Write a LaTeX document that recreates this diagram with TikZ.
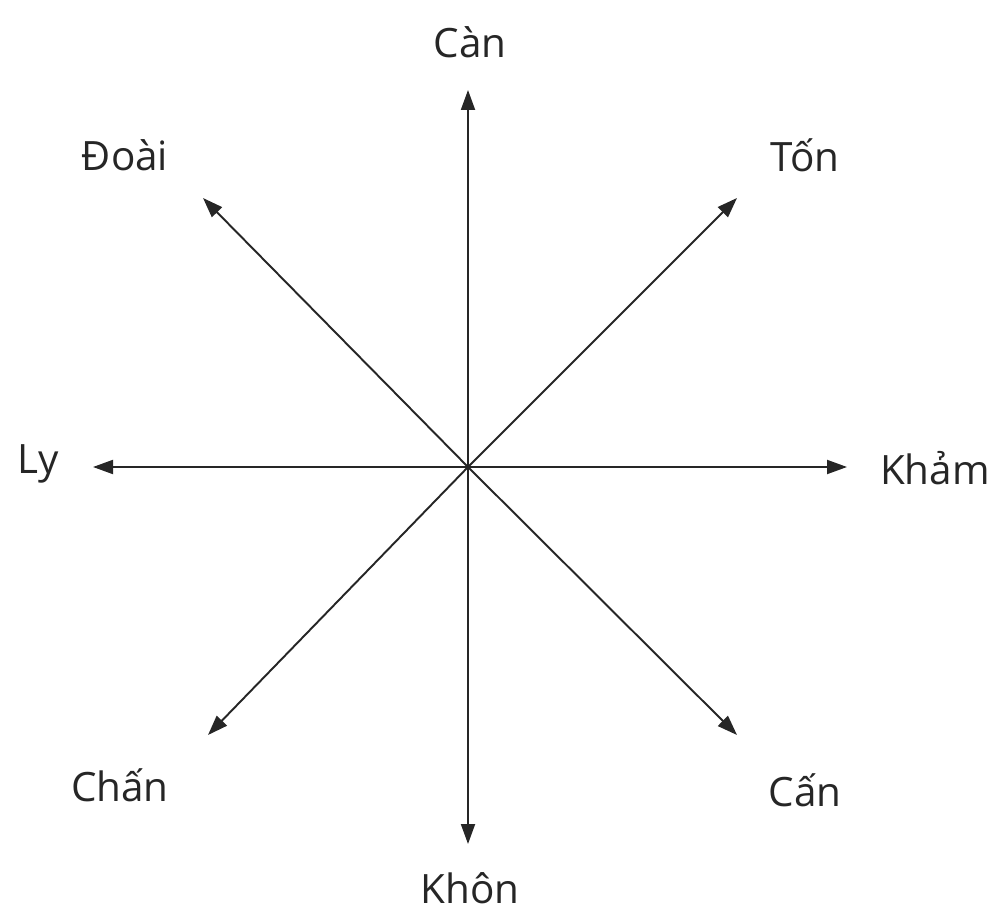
\documentclass[tikz,border=0pt]{standalone}
\usepackage{fontspec}
\setmainfont{Open Sans}
\usetikzlibrary{arrows.meta}

\begin{document}
\begin{tikzpicture}[
  >={Triangle[length=0.4cm,width=0.28cm]},
  dir/.style={->, line width=1.1pt, draw=black!85},
  lbl/.style={font=\fontsize{23}{28}\selectfont, text=black!85, inner sep=0pt}
]
  \useasboundingbox (0,0) rectangle (19.9,18.24);

  % centre and arrow ends
  \coordinate (o) at (9.36,8.9);
  \coordinate (can) at (9.36,16.44);
  \coordinate (khon) at (9.36,1.36);
  \coordinate (ly) at (1.86,8.9);
  \coordinate (kham) at (16.94,8.9);
  \coordinate (doai) at (4.06,14.28);
  \coordinate (ton) at (14.74,14.28);
  \coordinate (chan) at (4.16,3.54);
  \coordinate (canb) at (14.74,3.54);

  % labels
  \node[lbl] (tcan) at (9.4,17.4) {Càn};
  \node[lbl] (tdoai) at (2.5,15.14) {Đoài};
  \node[lbl] (tton) at (16.1,15.14) {Tốn};
  \node[lbl] (tly) at (0.76,8.96) {Ly};
  \node[lbl] (tkham) at (18.7,8.88) {Khảm};
  \node[lbl] (tchan) at (2.4,2.54) {Chấn};
  \node[lbl] (tcanb) at (16.1,2.44) {Cấn};
  \node[lbl] (tkhon) at (9.4,0.48) {Khôn};

  % arrows
  \foreach \e in {can,khon,ly,kham,doai,ton,chan,canb}
    \draw[dir] (o) -- (\e);

\end{tikzpicture}
\end{document}
